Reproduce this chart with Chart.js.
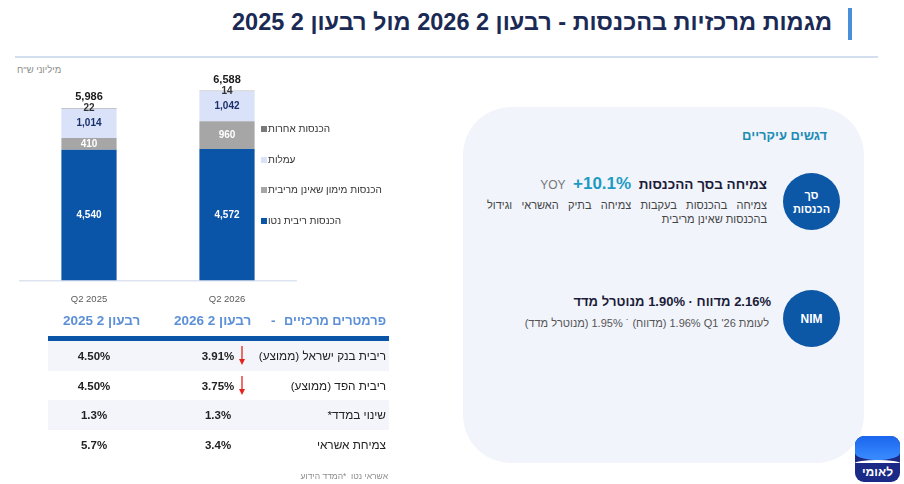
<!DOCTYPE html>
<html lang="he">
<head>
<meta charset="utf-8">
<title>מגמות מרכזיות בהכנסות</title>
<script src="https://cdn.jsdelivr.net/npm/chart.js@4.4.1/dist/chart.umd.min.js"></script>
<style>
  html, body { margin: 0; padding: 0; }
  body { width: 904px; height: 484px; overflow: hidden; background: #fff; position: relative;
         font-family: "Liberation Sans", Arial, sans-serif; color: #222; }
  .abs { position: absolute; white-space: nowrap; }
  .rtl { direction: rtl; }
  .ltr { direction: ltr; unicode-bidi: isolate; }
  #title { right: 72px; top: 9px; font-size: 23.5px; font-weight: bold; color: #1b2a55; }
  #titleBar { left: 848px; top: 8px; width: 4px; height: 32px; background: #4a8fd8; }
  #rule { left: 15px; top: 56px; width: 863px; height: 2px; background: #d3deee; }
  #unit { left: 17px; top: 64px; font-size: 9.5px; color: #8c8c8c; }
  #chartBox { left: 0; top: 60px; width: 300px; height: 254px; }
  #legend { left: 261px; top: 123px; }
  .lg { height: 30.7px; display: flex; align-items: flex-start; direction: ltr; font-size: 10px; color: #333; }
  .lg i { display: inline-block; width: 6px; height: 6px; margin-top: 3px; margin-right: 1px; }
  .th { font-size: 13.5px; font-weight: bold; color: #5b8fd6; top: 313px; }
  .row { left: 48px; width: 341px; height: 30px; }
  .lbl { right: 518px; font-size: 11.8px; color: #222; }
  .val { font-size: 11.5px; font-weight: bold; color: #222; width: 60px; text-align: center; }
  #card { left: 463px; top: 107px; width: 401px; height: 356px; border-radius: 48px; background: #f1f4fb; }
  .circ { width: 57px; height: 57px; border-radius: 50%; background: #0c57a6; color: #fff;
          font-weight: bold; font-size: 11px; display: flex; align-items: center; justify-content: center;
          text-align: center; line-height: 14px; }
</style>
</head>
<body>
<script>
  // chart data
  const categories = ['Q2 2025', 'Q2 2026'];
  const seriesNames = ['הכנסות ריבית נטו', 'הכנסות מימון שאינן מריבית', 'עמלות', 'הכנסות אחרות'];
  const netInterest = [4540, 4572];
  const nonInterestFinance = [410, 960];
  const fees = [1014, 1042];
  const otherIncome = [22, 14];
  const seriesColors = ['#0b55a8', '#a6a6a6', '#d9e2f8', '#7a7a7a'];
  const labelColors = ['#ffffff', '#ffffff', '#1b2f6b', '#333333'];

  // table data
  const paramLabels = ['ריבית בנק ישראל (ממוצע)', 'ריבית הפד (ממוצע)', 'שינוי במדד*', 'צמיחת אשראי'];
  const values2026 = ['3.91%', '3.75%', '1.3%', '3.4%'];
  const values2025 = ['4.50%', '4.50%', '1.3%', '5.7%'];
  const arrowDown = [true, true, false, false];
</script>

<div id="title" class="abs rtl">מגמות מרכזיות בהכנסות - רבעון 2 2026 מול רבעון 2 2025</div>
<div id="titleBar" class="abs"></div>
<div id="rule" class="abs"></div>

<div id="unit" class="abs rtl">מיליוני ש"ח</div>
<div id="chartBox" class="abs"><canvas id="chart"></canvas></div>
<div id="legend" class="abs"></div>

<!-- table -->
<div class="abs th rtl" style="right:518px; font-size:12.8px;">פרמטרים מרכזיים</div>
<div class="abs th" style="left:271px;">-</div>
<div class="abs th rtl" style="left:174px;">רבעון 2 2026</div>
<div class="abs th rtl" style="left:63px;">רבעון 2 2025</div>
<div class="abs" style="left:48px; top:336px; width:341px; height:5px; background:#0b55a8;"></div>
<div id="tableRows"></div>
<div class="abs rtl" style="right:516px; top:471px; font-size:8.5px; color:#8c8c8c;">אשראי נטו &nbsp;*המדד הידוע</div>

<!-- highlights card -->
<div id="card" class="abs"></div>
<div class="abs rtl" style="right:77px; top:128px; font-size:13px; font-weight:bold; color:#1d8cb5;">דגשים עיקריים</div>

<div class="abs circ rtl" style="left:783px; top:173px;">סך<br>הכנסות</div>
<div class="abs rtl" style="right:137px; top:174px; font-size:13.5px; font-weight:bold; color:#1c1c3a;">
  צמיחה בסך ההכנסות&nbsp;
  <span class="ltr" style="font-size:17px; color:#1d9ac2;">+10.1%</span>&nbsp;
  <span class="ltr" style="font-size:12px; font-weight:normal; color:#777;">YOY</span>
</div>
<div class="abs rtl" style="left:487px; top:198px; width:280px; font-size:11px; color:#444; white-space:normal; line-height:14px;">
  <div style="text-align:justify; text-align-last:justify;">צמיחה בהכנסות בעקבות צמיחה בתיק האשראי וגידול</div>
  <div style="text-align:right;">בהכנסות שאינן מריבית</div>
</div>

<div class="abs circ" style="left:783px; top:290px; font-size:12px;">NIM</div>
<div class="abs rtl" style="right:133px; top:294px; font-size:13px; font-weight:bold; color:#1c1c3a;">2.16% מדווח · 1.90% מנוטרל מדד</div>
<div class="abs rtl" style="right:135px; top:317px; font-size:11px; color:#555;">לעומת Q1 '26&rlm; 1.96% (מדווח) ˙ 1.95% (מנוטרל מדד)</div>

<!-- logo -->
<div class="abs" style="left:855px; top:436px; width:45px; height:46px; border-radius:9px; overflow:hidden; background:#1b2a86;">
  <div style="position:absolute; left:0; top:0; width:45px; height:24px; background:linear-gradient(#1a66ee, #3b8cff); border-radius:0 0 50% 50% / 0 0 7px 7px;"></div>
  <div style="position:absolute; left:0; top:24px; width:45px; height:3px; background:#fff; border-radius:50% 50% 0 0 / 3px 3px 0 0;"></div>
  <div class="rtl" style="position:absolute; left:0; top:29px; width:45px; text-align:center; color:#fff; font-weight:bold; font-size:12px;">לאומי</div>
</div>

<script>
  // table rows
  const rowsBox = document.getElementById('tableRows');
  paramLabels.forEach((lbl, i) => {
    const top = 341 + i * 29.5;
    let html = '';
    if (i % 2 === 0) html += `<div class="abs row" style="top:${top}px; background:#f3f5fb;"></div>`;
    html += `<div class="abs lbl rtl" style="top:${top + 8}px;">${lbl}</div>`;
    html += `<div class="abs val" style="left:188px; top:${top + 9}px;">${values2026[i]}</div>`;
    html += `<div class="abs val" style="left:64px; top:${top + 9}px;">${values2025[i]}</div>`;
    if (arrowDown[i]) {
      html += `<svg class="abs" style="left:238px; top:${top + 5}px;" width="8" height="19" viewBox="0 0 8 19">
        <line x1="4" y1="0" x2="4" y2="14" stroke="#e4231b" stroke-width="1.3"/>
        <polygon points="1,13 7,13 4,19" fill="#e4231b"/></svg>`;
    }
    rowsBox.insertAdjacentHTML('beforeend', html);
  });

  // legend, top item is the top stack segment
  const legendBox = document.getElementById('legend');
  for (let i = seriesNames.length - 1; i >= 0; i--) {
    legendBox.insertAdjacentHTML('beforeend',
      `<div class="lg"><i style="background:${seriesColors[i]}"></i><span dir="rtl">${seriesNames[i]}</span></div>`);
  }

  const fmt = v => v.toLocaleString('en-US');

  const barLabels = {
    id: 'barLabels',
    afterDatasetsDraw(chart) {
      const ctx = chart.ctx;
      ctx.save();
      ctx.textAlign = 'center';
      ctx.textBaseline = 'middle';
      ctx.font = 'bold 10px "Liberation Sans", Arial';
      chart.data.datasets.forEach((ds, i) => {
        chart.getDatasetMeta(i).data.forEach((bar, j) => {
          ctx.fillStyle = labelColors[i];
          ctx.fillText(fmt(ds.data[j]), bar.x, (bar.y + bar.base) / 2);
        });
      });
      const lastIdx = chart.data.datasets.length - 1;
      ctx.font = 'bold 11px "Liberation Sans", Arial';
      ctx.fillStyle = '#1a1a1a';
      chart.getDatasetMeta(lastIdx).data.forEach((bar, j) => {
        const total = chart.data.datasets.reduce((s, ds) => s + ds.data[j], 0);
        ctx.fillText(fmt(total), bar.x, bar.y - 11);
      });
      ctx.restore();
    }
  };

  const allSeries = [netInterest, nonInterestFinance, fees, otherIncome];

  new Chart(document.getElementById('chart'), {
    type: 'bar',
    data: {
      labels: categories,
      datasets: allSeries.map((d, i) => ({
        label: seriesNames[i],
        data: d,
        backgroundColor: seriesColors[i],
        borderWidth: 0,
        categoryPercentage: 0.5,
        barPercentage: 0.8
      }))
    },
    options: {
      responsive: true,
      maintainAspectRatio: false,
      animation: false,
      layout: { padding: { left: 20, right: 4, top: 19, bottom: 4 } },
      plugins: { legend: { display: false }, tooltip: { enabled: false } },
      scales: {
        x: {
          stacked: true,
          grid: { display: false },
          border: { color: '#dde4f0', width: 1.5 },
          ticks: { color: '#5a5a5a', font: { size: 9.5, family: '"Liberation Sans", Arial' }, padding: 5 }
        },
        y: { stacked: true, display: false, min: 0, max: 7000 }
      }
    },
    plugins: [barLabels]
  });
</script>
</body>
</html>
